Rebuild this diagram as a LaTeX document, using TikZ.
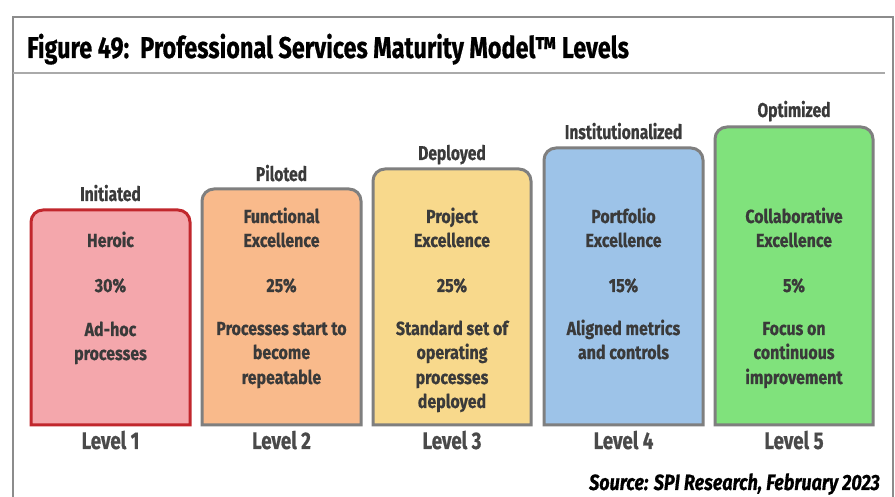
\documentclass[tikz,border=0pt]{standalone}
\usepackage{fontspec}
\setmainfont{Fira Sans}
\newfontfamily\titlef{Fira Sans}[FakeStretch=0.78, UprightFont=* Bold, ItalicFont=* Bold Italic, FakeBold=0.6]
\newfontfamily\innerf{Fira Sans}[FakeStretch=0.84, UprightFont=* Bold, ItalicFont=* Bold Italic, FakeBold=0.6]
\newfontfamily\srcf{Fira Sans}[FakeStretch=0.82, UprightFont=* Bold Italic, FakeBold=0.6]
\definecolor{framegray}{HTML}{8C8C8C}
\definecolor{sepgray}{HTML}{AAAAAA}
\definecolor{txtgray}{HTML}{3A3A3A}
\definecolor{lvlgray}{HTML}{4A4A4A}
\definecolor{boxgray}{HTML}{7F7F7F}
\definecolor{redB}{HTML}{C1272D}
\definecolor{pinkF}{HTML}{F4A7AC}
\definecolor{peachF}{HTML}{F9BA8B}
\definecolor{yellowF}{HTML}{F8D98C}
\definecolor{blueF}{HTML}{9DC3E8}
\definecolor{greenF}{HTML}{80E27C}
\newcommand{\lvlbox}[6]{%
  \draw[line width=3, draw=#6, fill=#5] (#2,72) -- (#2,#4-12)
    arc[start angle=180,end angle=90,radius=12] -- (#3-12,#4)
    arc[start angle=90,end angle=0,radius=12] -- (#3,72) -- cycle;
  \coordinate (#1) at ({(#2+#3)/2},72);}
\begin{document}
\begin{tikzpicture}[x=1pt,y=1pt,
  txt/.style={anchor=base, text=txtgray, font=\innerf\fontsize{19}{22}\selectfont, inner sep=0},
  toplbl/.style={anchor=base, text=txtgray, font=\titlef\fontsize{20}{23}\selectfont, inner sep=0},
  lvl/.style={anchor=base, text=lvlgray, font=\titlef\fontsize{24}{27}\selectfont, inner sep=0}]
\useasboundingbox (0,0) rectangle (895,497);
\fill[white] (0,0) rectangle (895,497);
% frame
\draw[framegray, line width=2.5] (13,0) -- (13,480) -- (893,480) -- (893,0);
\draw[sepgray, line width=2] (13,424) -- (885,424);
\node[anchor=base west, inner sep=0, font=\titlef\fontsize{30}{34}\selectfont] (title) at (27,439) {Figure 49:\ \ Professional Services Maturity Model™ Levels};
% boxes
\lvlbox{b1}{31}{190}{287}{pinkF}{redB}
\lvlbox{b2}{202}{361}{308}{peachF}{boxgray}
\lvlbox{b3}{373}{531}{328}{yellowF}{boxgray}
\lvlbox{b4}{544}{703}{349}{blueF}{boxgray}
\lvlbox{b5}{715}{873}{370}{greenF}{boxgray}
% labels above
\node[toplbl] (u1) at (110.5,497-201) {Initiated};
\node[toplbl] (u2) at (281.5,497-181) {Piloted};
\node[toplbl] (u3) at (452,497-160) {Deployed};
\node[toplbl] (u4) at (623.5,497-139) {Institutionalized};
\node[toplbl] (u5) at (794,497-117) {Optimized};
% box 1
\node[txt] (h1) at (110.5,497-247) {Heroic};
\node[txt] (p1) at (110.5,497-292) {30\%};
\node[txt] (d1a) at (110.5,497-336) {Ad-hoc};
\node[txt] (d1b) at (110.5,497-360) {processes};
% box 2
\node[txt] (h2a) at (281.5,497-223) {Functional};
\node[txt] (h2b) at (281.5,497-247) {Excellence};
\node[txt] (p2) at (281.5,497-292) {25\%};
\node[txt] (d2a) at (281.5,497-335) {Processes start to};
\node[txt] (d2b) at (281.5,497-359) {become};
\node[txt] (d2c) at (281.5,497-384) {repeatable};
% box 3
\node[txt] (h3a) at (452,497-223) {Project};
\node[txt] (h3b) at (452,497-247) {Excellence};
\node[txt] (p3) at (452,497-292) {25\%};
\node[txt] (d3a) at (452,497-335) {Standard set of};
\node[txt] (d3b) at (452,497-359) {operating};
\node[txt] (d3c) at (452,497-384) {processes};
\node[txt] (d3d) at (452,497-408) {deployed};
% box 4
\node[txt] (h4a) at (623.5,497-223) {Portfolio};
\node[txt] (h4b) at (623.5,497-247) {Excellence};
\node[txt] (p4) at (623.5,497-292) {15\%};
\node[txt] (d4a) at (623.5,497-335) {Aligned metrics};
\node[txt] (d4b) at (623.5,497-359) {and controls};
% box 5
\node[txt] (h5a) at (794,497-223) {Collaborative};
\node[txt] (h5b) at (794,497-247) {Excellence};
\node[txt] (p5) at (794,497-292) {5\%};
\node[txt] (d5a) at (794,497-335) {Focus on};
\node[txt] (d5b) at (794,497-359) {continuous};
\node[txt] (d5c) at (794,497-384) {improvement};
% level labels
\node[lvl] (l1) at (110.5,497-449) {Level 1};
\node[lvl] (l2) at (281.5,497-449) {Level 2};
\node[lvl] (l3) at (452,497-449) {Level 3};
\node[lvl] (l4) at (623.5,497-449) {Level 4};
\node[lvl] (l5) at (794,497-449) {Level 5};
% source
\node[anchor=base east, inner sep=0, font=\srcf\fontsize{22}{25}\selectfont] (src) at (880,497-490) {Source: SPI Research, February 2023};
\end{tikzpicture}
\end{document}
